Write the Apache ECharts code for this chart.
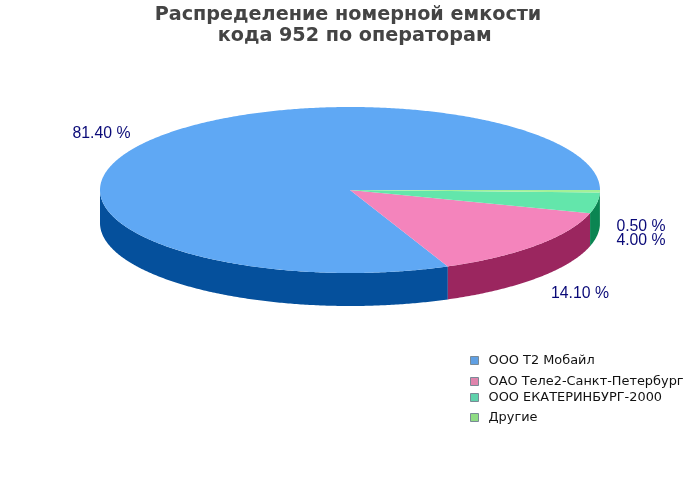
<!DOCTYPE html>
<html>
<head>
<meta charset="utf-8">
<script src="https://cdn.jsdelivr.net/npm/echarts@6/dist/echarts.min.js"></script>
<style>html,body{margin:0;padding:0;background:#fff}#c{width:700px;height:500px}</style>
</head>
<body>
<div id="c"></div>
<script>
var categories = ['ООО Т2 Мобайл', 'ОАО Теле2-Санкт-Петербург', 'ООО ЕКАТЕРИНБУРГ-2000', 'Другие'];
var shares = [81.4, 14.1, 4.0, 0.5];
var shareLabels = ['81.40 %', '14.10 %', '4.00 %', '0.50 %'];

var topColors = ['#5fa8f4', '#f484bc', '#63e6ab', '#a4f098'];
var wallColors = ['#05509c', '#9b265f', '#0b8552', '#0b8552'];
var legendColors = ['#5f9fe3', '#df84ac', '#5fd2ab', '#8fdc84'];
var legendTops = [354, 375, 391, 411];
var labelAnchors = [[101.5, 134], [580, 294], [641, 241], [641, 227]];

var CX = 350, CY = 190, RX = 250, RY = 83, DEPTH = 33;
var total = shares.reduce(function (a, b) { return a + b; }, 0);

function pt(deg, dy) {
  var r = deg * Math.PI / 180;
  return [CX + RX * Math.cos(r), CY - RY * Math.sin(r) + dy];
}
function arcPts(a0, a1, dy) {
  var out = [], n = Math.max(2, Math.ceil(Math.abs(a1 - a0) * 2));
  for (var i = 0; i <= n; i++) out.push(pt(a0 + (a1 - a0) * i / n, dy));
  return out;
}

function makeSeries(i) {
  var before = shares.slice(0, i).reduce(function (a, b) { return a + b; }, 0);
  return {
    type: 'custom',
    name: categories[i],
    coordinateSystem: 'none',
    silent: true,
    animation: false,
    clip: false,
    itemStyle: { color: topColors[i] },
    data: [[before, shares[i]]],
    renderItem: function (params, api) {
      var start = api.value(0) / total * 360;
      var end = start + api.value(1) / total * 360;
      var children = [];
      var w0 = Math.max(start, 180), w1 = Math.min(end, 360);
      if (w1 > w0) {
        var front = arcPts(w0, w1, 0);
        var back = arcPts(w1, w0, DEPTH);
        children.push({
          type: 'polygon',
          shape: { points: front.concat(back) },
          style: { fill: wallColors[i] }
        });
      }
      children.push({
        type: 'polygon',
        shape: { points: [[CX, CY]].concat(arcPts(start, end, 0)) },
        style: { fill: topColors[i] }
      });
      children.push({
        type: 'text',
        style: {
          x: labelAnchors[i][0], y: labelAnchors[i][1],
          text: shareLabels[i],
          fill: '#0a0a78',
          font: '15.8px "Liberation Sans", Arial, sans-serif',
          align: 'center', verticalAlign: 'middle'
        }
      });
      return { type: 'group', children: children };
    }
  };
}

var chart = echarts.init(document.getElementById('c'), null, { renderer: 'canvas' });
chart.setOption({
  animation: false,
  backgroundColor: '#ffffff',
  title: {
    text: 'Распределение номерной емкости\n\u00a0\u00a0кода 952 по операторам',
    left: 348, top: 5, textAlign: 'center', padding: 0,
    textStyle: { fontFamily: 'DejaVu Sans', fontWeight: 'bold', fontSize: 19.2, lineHeight: 21, color: '#444444' }
  },
  legend: categories.map(function (name, i) {
    return {
      left: 470, top: legendTops[i],
      orient: 'vertical', padding: 0, itemWidth: 8, itemHeight: 8, itemGap: 0,
      icon: 'rect', selectedMode: false,
      textStyle: { fontFamily: 'DejaVu Sans', fontSize: 12.9, color: '#111111', padding: [0, 0, 0, 5] },
      data: [{ name: name, itemStyle: { color: legendColors[i], borderColor: '#7a8a96', borderWidth: 1 } }]
    };
  }),
  series: categories.map(function (_, i) { return makeSeries(i); })
});
</script>
</body>
</html>
